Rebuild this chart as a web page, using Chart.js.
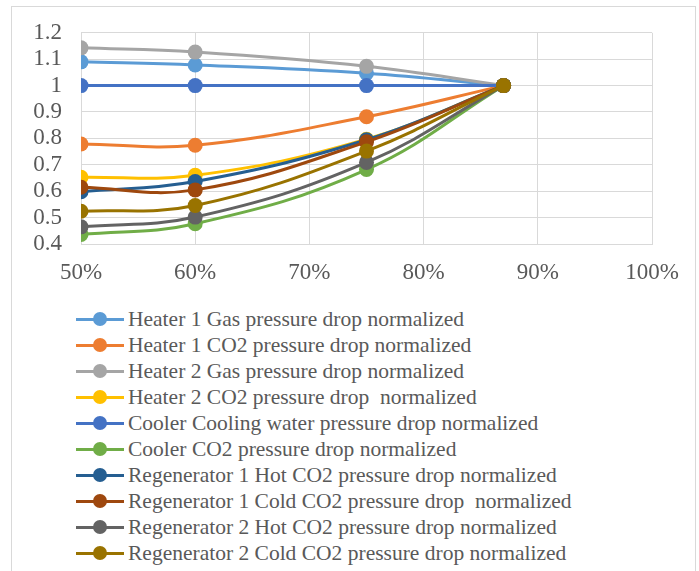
<!DOCTYPE html>
<html>
<head>
<meta charset="utf-8">
<script src="https://cdn.jsdelivr.net/npm/chart.js@4/dist/chart.umd.min.js"></script>
<style>
  html, body { margin:0; padding:0; background:#fff; width:699px; height:571px; overflow:hidden; }
  #frame { position:absolute; left:11px; top:6px; width:685px; height:620px; border:1px solid #d9d9d9; box-sizing:border-box; }
  #wrap { position:absolute; left:0; top:0; width:699px; height:290px; }
  #legend { position:absolute; left:76px; top:306px; font-family:"Liberation Serif", "Times New Roman", serif; font-size:21.5px; color:#595959; }
  .item { position:relative; height:26px; line-height:26px; white-space:pre; }
  .sw { position:absolute; left:0; top:12px; width:48px; height:3px; }
  .dot { position:absolute; left:17px; top:6px; width:14px; height:14px; border-radius:50%; }
  .txt { position:absolute; left:52px; top:0; }
</style>
</head>
<body>
<div id="frame"></div>
<div id="wrap"><canvas id="c" width="699" height="290"></canvas></div>
<div id="legend"></div>
<script>
const xLoads = [0.50, 0.60, 0.75, 0.87];
const seriesNames = [
  "Heater 1 Gas pressure drop normalized",
  "Heater 1 CO2 pressure drop normalized",
  "Heater 2 Gas pressure drop normalized",
  "Heater 2 CO2 pressure drop  normalized",
  "Cooler Cooling water pressure drop normalized",
  "Cooler CO2 pressure drop normalized",
  "Regenerator 1 Hot CO2 pressure drop normalized",
  "Regenerator 1 Cold CO2 pressure drop  normalized",
  "Regenerator 2 Hot CO2 pressure drop normalized",
  "Regenerator 2 Cold CO2 pressure drop normalized"
];
const heater1Gas = [1.09, 1.078, 1.047, 1.0];
const heater1CO2 = [0.779, 0.774, 0.882, 1.0];
const heater2Gas = [1.143, 1.127, 1.073, 1.0];
const heater2CO2 = [0.653, 0.660, 0.797, 1.0];
const coolerWater = [1.0, 1.0, 1.0, 1.0];
const coolerCO2 = [0.436, 0.477, 0.682, 1.0];
const regen1Hot = [0.598, 0.637, 0.795, 1.0];
const regen1Cold = [0.615, 0.605, 0.787, 1.0];
const regen2Hot = [0.465, 0.502, 0.709, 1.0];
const regen2Cold = [0.524, 0.546, 0.752, 1.0];
const yTicks = [0.4, 0.5, 0.6, 0.7, 0.8, 0.9, 1, 1.1, 1.2];
const xTicks = [0.5, 0.6, 0.7, 0.8, 0.9, 1.0];

const seriesValues = [heater1Gas, heater1CO2, heater2Gas, heater2CO2, coolerWater, coolerCO2, regen1Hot, regen1Cold, regen2Hot, regen2Cold];
const colors = ["#5B9BD5", "#ED7D31", "#A5A5A5", "#FFC000", "#4472C4", "#70AD47", "#255E91", "#9E480E", "#636363", "#997300"];

const datasets = seriesNames.map((name, i) => ({
  label: name,
  data: xLoads.map((x, j) => ({ x: x, y: seriesValues[i][j] })),
  borderColor: colors[i],
  backgroundColor: colors[i],
  borderWidth: 3,
  pointRadius: 7.5,
  pointBorderWidth: 0,
  pointHoverRadius: 7.5,
  tension: 0.4,
  fill: false,
  order: seriesNames.length - i
}));

const font = { family: "'Liberation Serif', 'Times New Roman', serif", size: 23 };

new Chart(document.getElementById('c'), {
  type: 'line',
  data: { datasets },
  options: {
    responsive: false,
    animation: false,
    layout: { padding: { left: 0, right: 47, top: 32, bottom: 0 } },
    plugins: { legend: { display: false }, tooltip: { enabled: false } },
    scales: {
      x: {
        type: 'linear', min: 0.5, max: 1.0,
        afterBuildTicks: s => { s.ticks = xTicks.map(v => ({ value: v })); },
        afterFit: s => { s.height = 46; },
        grid: { color: '#d9d9d9', lineWidth: 1, drawTicks: false },
        border: { color: '#d9d9d9' },
        ticks: { color: '#595959', font, padding: 15, maxRotation: 0, autoSkip: false,
          callback: v => Math.round(v * 100) + '%' }
      },
      y: {
        min: 0.4, max: 1.2,
        afterBuildTicks: s => { s.ticks = yTicks.map(v => ({ value: v })); },
        afterFit: s => { s.width = 81; },
        grid: { color: '#d9d9d9', lineWidth: 1, drawTicks: false },
        border: { color: '#d9d9d9' },
        ticks: { color: '#595959', font, padding: 19, autoSkip: false,
          callback: v => String(Math.round(v * 10) / 10) }
      }
    }
  }
});

const leg = document.getElementById('legend');
seriesNames.forEach((name, i) => {
  const d = document.createElement('div');
  d.className = 'item';
  d.innerHTML = '<span class="sw" style="background:' + colors[i] + '"></span>' +
    '<span class="dot" style="background:' + colors[i] + '"></span>' +
    '<span class="txt"></span>';
  d.querySelector('.txt').textContent = name;
  leg.appendChild(d);
});
</script>
</body>
</html>
